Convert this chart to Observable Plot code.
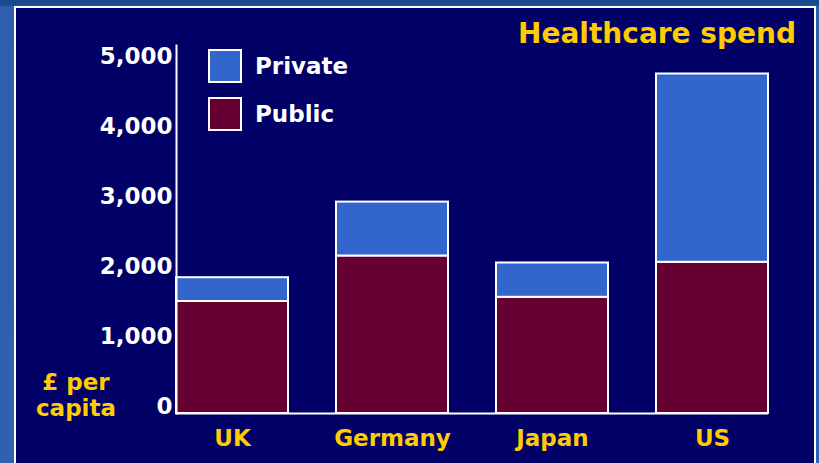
<!DOCTYPE html>
<html>
<head>
<meta charset="utf-8">
<script src="https://cdn.jsdelivr.net/npm/d3@7"></script>
<script src="https://cdn.jsdelivr.net/npm/@observablehq/plot@0.6"></script>
<style>
  html, body { margin: 0; padding: 0; }
  body {
    width: 819px; height: 463px; overflow: hidden; position: relative;
    background: linear-gradient(to bottom, #174a86 0px, #1c4f90 6px, #2d5fae 6px, #2f61b2 100%);
    font-family: "DejaVu Sans", Verdana, sans-serif; font-weight: bold;
  }
  #panel {
    position: absolute; left: 14px; top: 6px; width: 798px; height: 470px;
    background: #000066; border: 2px solid #ffffff;
  }
  #chart { position: absolute; left: 0; top: 0; }
  #chart svg { background: transparent; overflow: visible; }
  #chart svg text { font-weight: bold; }
  .title {
    position: absolute; right: 23px; top: 17px; color: #ffcc00; font-size: 28px;
    white-space: nowrap;
  }
  .legend-item { position: absolute; left: 208px; display: flex; align-items: center; }
  .swatch { width: 30px; height: 30px; border: 2px solid #ffffff; margin-right: 13px; }
  .legend-item span { color: #ffffff; font-size: 23px; }
  .ylabel {
    position: absolute; left: 16px; top: 369px; width: 120px; text-align: center;
    color: #ffcc00; font-size: 23px; line-height: 26px;
  }
</style>
</head>
<body>
<div id="panel"></div>
<div id="chart"></div>
<div class="title">Healthcare spend</div>
<div class="legend-item" style="top:49px"><div class="swatch" style="background:#3366cc"></div><span>Private</span></div>
<div class="legend-item" style="top:97px"><div class="swatch" style="background:#660033"></div><span>Public</span></div>
<div class="ylabel">£ per<br>capita</div>
<script>
const countries = ["UK", "Germany", "Japan", "US"];
const publicSpend = [1600, 2250, 1660, 2160];
const privateSpend = [340, 770, 490, 2690];
const seriesNames = ["Public", "Private"];
const seriesColors = ["#660033", "#3366cc"];
const yTicks = [0, 1000, 2000, 3000, 4000, 5000];

const rows = [];
countries.forEach((c, i) => rows.push({country: c, type: "Public", value: publicSpend[i]}));
countries.forEach((c, i) => rows.push({country: c, type: "Private", value: privateSpend[i]}));

const chart = Plot.plot({
  width: 819,
  height: 463,
  marginLeft: 176,
  marginRight: 51,
  marginTop: 45,
  marginBottom: 50,
  style: {background: "transparent", fontFamily: "DejaVu Sans, Verdana, sans-serif"},
  x: {domain: countries, paddingInner: 0.3, paddingOuter: 0},
  y: {domain: [0, 5000], range: [413, 63]},
  color: {domain: seriesNames, range: seriesColors},
  marks: [
    Plot.barY(rows, {x: "country", y: "value", fill: "type", stroke: "white", strokeWidth: 2}),
    Plot.ruleY([0], {stroke: "white", strokeWidth: 2}),
    Plot.frame({anchor: "left", stroke: "white", strokeWidth: 2}),
    Plot.axisY({ticks: yTicks, tickFormat: d3.format(","), tickSize: 0, tickPadding: 4,
      fontSize: 23, fontWeight: "bold", color: "white", dy: -7, label: null}),
    Plot.axisX({tickSize: 0, tickPadding: 16, fontSize: 23, fontWeight: "bold",
      color: "#ffcc00", label: null})
  ]
});
document.getElementById("chart").appendChild(chart);
</script>
</body>
</html>
